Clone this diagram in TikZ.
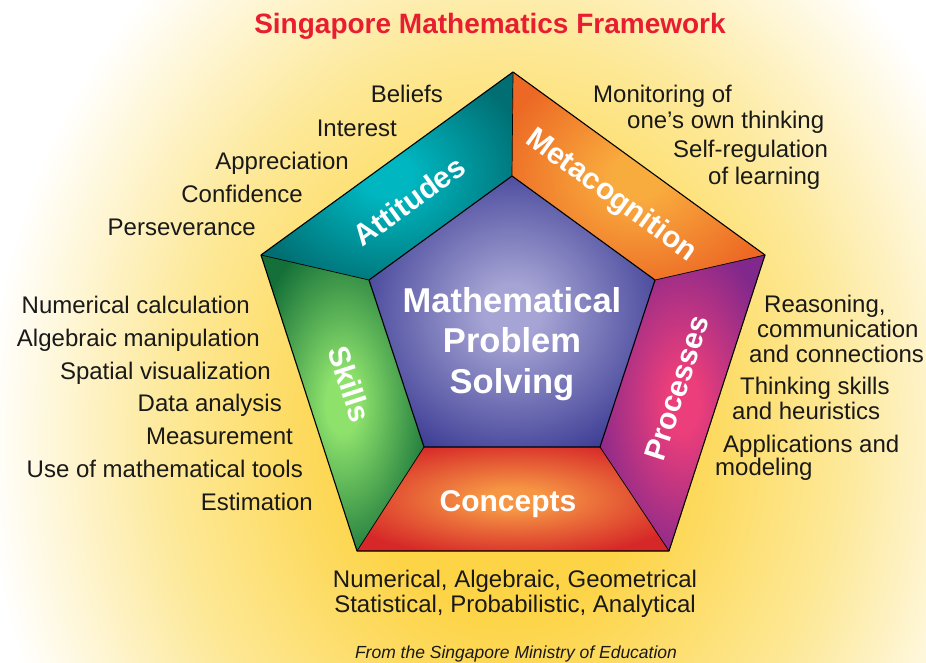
\documentclass[tikz,border=0pt]{standalone}
\usepackage{fontspec}
\setmainfont{Liberation Sans}
\usepackage{tikz}
\usetikzlibrary{calc,positioning}

\definecolor{glowA}{RGB}{253,212,70}
\definecolor{glowB}{RGB}{253,232,150}
\definecolor{titlered}{RGB}{232,30,48}
\definecolor{attin}{RGB}{0,182,192}
\definecolor{attout}{RGB}{0,110,114}
\definecolor{metin}{RGB}{249,172,62}
\definecolor{metout}{RGB}{236,104,36}
\definecolor{proin}{RGB}{236,62,122}
\definecolor{proout}{RGB}{128,40,140}
\definecolor{conin}{RGB}{246,150,68}
\definecolor{conout}{RGB}{214,40,40}
\definecolor{skiin}{RGB}{142,226,108}
\definecolor{skiout}{RGB}{20,112,56}
\definecolor{mpsin}{RGB}{166,164,212}
\definecolor{mpsout}{RGB}{62,62,150}
\colorlet{bandin}{white}
\colorlet{bandout}{black}

\pgfdeclareradialshading{glow}{\pgfpointorigin}{color(0bp)=(glowA); color(7bp)=(glowA); color(16bp)=(glowB); color(25bp)=(white); color(50bp)=(white)}
\pgfdeclareradialshading[bandin,bandout]{band}{\pgfpointorigin}{color(0bp)=(bandin); color(5bp)=(bandin); color(29bp)=(bandout); color(50bp)=(bandout)}

\begin{document}
\begin{tikzpicture}[x=1pt,y=-1pt,
  item/.style={font=\fontsize{24}{26}\selectfont, text=black!90, inner sep=0pt},
  bandlabel/.style={font=\bfseries\fontsize{30}{30}\selectfont, text=white, inner sep=0pt},
  bigtext/.style={font=\bfseries\fontsize{34.5}{40}\selectfont, text=white, inner sep=0pt, anchor=base},
  band/.style 2 args={/utils/exec={\colorlet{bandin}{#1}\colorlet{bandout}{#2}}, shading=band},
  rim/.style={draw=black, line width=1.1pt, line join=round}]
\useasboundingbox (0,0) rectangle (926,663);
% background glow
\begin{scope}
  \clip (0,0) rectangle (926,663);
  \fill[white] (0,0) rectangle (926,663);
  \shade[shading=glow] (505,440) ellipse [x radius=520pt, y radius=620pt];
\end{scope}

% pentagon corners
\coordinate (o1) at (513,72);
\coordinate (o2) at (765,255);
\coordinate (o3) at (669,551);
\coordinate (o4) at (357,551);
\coordinate (o5) at (261,255);
\coordinate (i1) at (512,176);
\coordinate (i2) at (655,280);
\coordinate (i3) at (600,447);
\coordinate (i4) at (424,447);
\coordinate (i5) at (369,280);

\shade[band={attin}{attout}] (o5) -- (o1) -- (i1) -- (i5) -- cycle;
\shade[band={metin}{metout}] (o1) -- (o2) -- (i2) -- (i1) -- cycle;
\shade[band={proin}{proout}] (o2) -- (o3) -- (i3) -- (i2) -- cycle;
\shade[band={conin}{conout}] (o3) -- (o4) -- (i4) -- (i3) -- cycle;
\shade[band={skiin}{skiout}] (o4) -- (o5) -- (i5) -- (i4) -- cycle;
\shade[band={mpsin}{mpsout}] (i1) -- (i2) -- (i3) -- (i4) -- (i5) -- cycle;

\draw[rim] (o1) -- (o2) -- (o3) -- (o4) -- (o5) -- cycle;
\draw[rim] (i1) -- (i2) -- (i3) -- (i4) -- (i5) -- cycle;
\draw[rim, line width=0.7pt] (o1) -- (i1) (o2) -- (i2) (o3) -- (i3) (o4) -- (i4) (o5) -- (i5);

% labels in the bands
\node[bandlabel, rotate=36] (att) at (409,201) {Attitudes};
\node[bandlabel, rotate=-36] (met) at (611,196) {Metacognition};
\node[bandlabel, rotate=72] (pro) at (677,388) {Processes};
\node[bandlabel, anchor=base] (cnc) at (508,511) {Concepts};
\node[bandlabel, rotate=-72] (ski) at (350,384) {Skills};
\node[bigtext] (mps1) at (512,312) {Mathematical};
\node[bigtext] (mps2) at (512,352) {Problem};
\node[bigtext] (mps3) at (512,393) {Solving};

% title and source
\node[font=\bfseries\fontsize{28}{30}\selectfont, text=titlered, inner sep=0pt, anchor=base] (title) at (490,34) {Singapore Mathematics Framework};
\node[font=\itshape\fontsize{17.5}{20}\selectfont, text=black!90, inner sep=0pt, anchor=base] (src) at (516,658) {From the Singapore Ministry of Education};

% attitudes
\node[item, anchor=base east] (bel) at (443,103) {Beliefs};
\node[item, anchor=base east] (int) at (397,137) {Interest};
\node[item, anchor=base east] (app) at (349,170) {Appreciation};
\node[item, anchor=base east] (con) at (303,203) {Confidence};
\node[item, anchor=base east] (per) at (256,235) {Perseverance};

% metacognition
\node[item, anchor=base west] (mon1) at (593,103) {Monitoring of};
\node[item, anchor=base west] (mon2) at (627,129) {one’s own thinking};
\node[item, anchor=base west] (sel1) at (673,158) {Self-regulation};
\node[item, anchor=base west] (sel2) at (708,185) {of learning};

% processes
\node[item, anchor=base west] (rea1) at (764,312) {Reasoning,};
\node[item, anchor=base west] (rea2) at (757,337) {communication};
\node[item, anchor=base west] (rea3) at (749,362) {and connections};
\node[item, anchor=base west] (thi1) at (740,394) {Thinking skills};
\node[item, anchor=base west] (thi2) at (732,419) {and heuristics};
\node[item, anchor=base west] (apl1) at (723,452) {Applications and};
\node[item, anchor=base west] (apl2) at (715,475) {modeling};

% skills
\node[item, anchor=base east] (num) at (250,313) {Numerical calculation};
\node[item, anchor=base east] (alg) at (260,346) {Algebraic manipulation};
\node[item, anchor=base east] (spa) at (271,379) {Spatial visualization};
\node[item, anchor=base east] (dat) at (282,411) {Data analysis};
\node[item, anchor=base east] (mea) at (293,444) {Measurement};
\node[item, anchor=base east] (use) at (303,477) {Use of mathematical tools};
\node[item, anchor=base east] (est) at (313,510) {Estimation};

% concepts
\node[item, anchor=base] (cl1) at (515,587) {Numerical, Algebraic, Geometrical};
\node[item, anchor=base] (cl2) at (515,612) {Statistical, Probabilistic, Analytical};
\end{tikzpicture}
\end{document}
